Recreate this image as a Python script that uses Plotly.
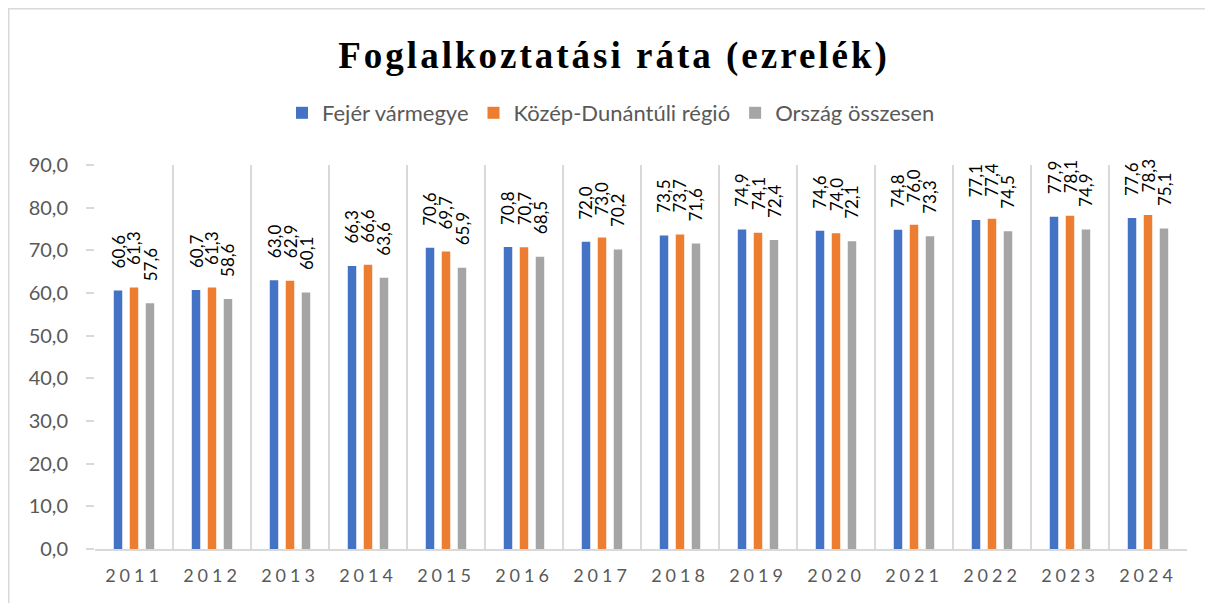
import plotly.graph_objects as go

years = ["2011", "2012", "2013", "2014", "2015", "2016", "2017",
         "2018", "2019", "2020", "2021", "2022", "2023", "2024"]
fejer = [60.6, 60.7, 63.0, 66.3, 70.6, 70.8, 72.0, 73.5, 74.9, 74.6, 74.8, 77.1, 77.9, 77.6]
kozep_dunantul = [61.3, 61.3, 62.9, 66.6, 69.7, 70.7, 73.0, 73.7, 74.1, 74.0, 76.0, 77.4, 78.1, 78.3]
orszag = [57.6, 58.6, 60.1, 63.6, 65.9, 68.5, 70.2, 71.6, 72.4, 72.1, 73.3, 74.5, 74.9, 75.1]

series_names = ["Fejér vármegye", "Közép-Dunántúli régió", "Ország összesen"]
series_values = [fejer, kozep_dunantul, orszag]
colors = ["#4472C4", "#ED7D31", "#A5A5A5"]
label_shift = [-16, 0, 16]

GRID = "#D9D9D9"
TEXT = "#595959"

# page body has an 8px margin, so the figure is 8px smaller than the window
W, H = 1205, 595
L, R, T, B = 87, 26, 157, 54
PW, PH = W - L - R, H - T - B


def hu(v):
    return f"{v:.1f}".replace(".", ",")


fig = go.Figure()
for name, vals, col in zip(series_names, series_values, colors):
    fig.add_trace(go.Bar(x=years, y=vals, name=name, marker=dict(color=col, line=dict(width=0))))

# rotated value labels above the bars (x given as category index)
annotations = []
for vals, shift in zip(series_values, label_shift):
    for i, v in enumerate(vals):
        annotations.append(dict(
            x=i, y=v, xref="x", yref="y", text=hu(v), showarrow=False,
            textangle=-90, xanchor="center", yanchor="bottom",
            xshift=shift, yshift=20,
            font=dict(family="Lato", size=17, color="#000000"),
        ))

fig.update_layout(
    width=W, height=H,
    paper_bgcolor="white", plot_bgcolor="white",
    margin=dict(l=L, r=R, t=T, b=B),
    separators=", ",
    barmode="group", bargap=0.385, bargroupgap=0.47,
    font=dict(family="Lato", color=TEXT),
    title=dict(
        text='<span style="letter-spacing:3px">Foglalkoztatási ráta (ezrelék)</span>',
        font=dict(family="Liberation Serif", size=37, color="#000000", weight="bold"),
        x=0.503, xanchor="center", y=1 - 47 / H, yanchor="middle",
    ),
    legend=dict(
        orientation="h", x=(603 - L) / PW, xanchor="center",
        y=1 + (T - 105) / PH, yanchor="middle",
        font=dict(family="Lato", size=22, color=TEXT),
        itemwidth=30, bgcolor="rgba(0,0,0,0)",
    ),
    xaxis=dict(
        type="category", range=[-0.5, len(years) - 0.5],
        tickson="boundaries", showgrid=True,
        gridcolor=GRID, gridwidth=1.5, ticks="",
        showline=True, linecolor=GRID, linewidth=1.5,
        tickvals=years,
        ticktext=[f'<span style="letter-spacing:4px">{y}</span>' for y in years],
        tickfont=dict(family="Lato", size=18, color=TEXT),
        ticklabelstandoff=10,
        tickangle=0, automargin=False,
    ),
    yaxis=dict(
        range=[0, 90], dtick=10, tickformat=".1f", showgrid=False,
        zeroline=False, showline=False,
        ticks="outside", ticklen=8, tickcolor=GRID, tickwidth=1.5,
        ticklabelstandoff=14, automargin=False,
        tickfont=dict(family="Lato", size=20, color=TEXT),
    ),
    annotations=annotations,
    shapes=[dict(
        type="rect", xref="paper", yref="paper",
        x0=(0.5 - L) / PW, x1=1.2, y0=-0.5, y1=1 + (T - 0.5) / PH,
        line=dict(color=GRID, width=2), fillcolor="rgba(0,0,0,0)", layer="below",
    )],
)

fig.write_html("out.html")
